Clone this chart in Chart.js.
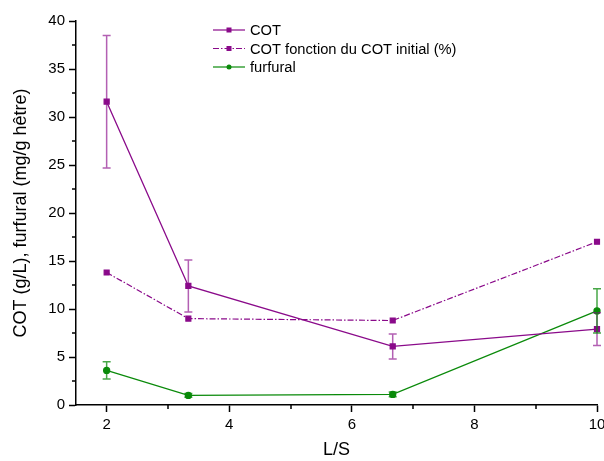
<!DOCTYPE html>
<html>
<head>
<meta charset="utf-8">
<script src="https://cdn.jsdelivr.net/npm/chart.js@4"></script>
<style>
  body { margin: 0; background: #fff; }
  #wrap { width: 604px; height: 461px; }
</style>
</head>
<body>
<div id="wrap"><canvas id="chart" width="604" height="461"></canvas></div>
<script>
const ratios = [2, 3.333, 6.667, 10];
const cotValues = [31.6, 12.4, 6.1, 7.9];
const cotErrors = [6.9, 2.7, 1.3, 1.7];
const cotInitialValues = [13.8, 9.0, 8.8, 17.0];
const furfuralValues = [3.6, 1.0, 1.1, 9.8];
const furfuralErrors = [0.9, 0.2, 0.25, 2.3];
const xTicks = [2, 4, 6, 8, 10];
const yTicks = [0, 5, 10, 15, 20, 25, 30, 35, 40];

const purple = '#8a0a8a';
const green = '#0a8a0a';
const font = 'Arial, "Liberation Sans", sans-serif';

function toPoints(values) {
    return values.map((v, i) => ({ x: ratios[i], y: v }));
}

const errorBars = {
    id: 'errorBars',
    afterDatasetsDraw(chart) {
        const ctx = chart.ctx;
        const xs = chart.scales.x;
        const ys = chart.scales.y;
        chart.data.datasets.forEach(ds => {
            if (!ds.errors) return;
            ctx.save();
            ctx.strokeStyle = ds.errorColor;
            ctx.lineWidth = 1.5;
            ds.data.forEach((p, i) => {
                const px = xs.getPixelForValue(p.x);
                const top = ys.getPixelForValue(p.y + ds.errors[i]);
                const bottom = ys.getPixelForValue(p.y - ds.errors[i]);
                ctx.beginPath();
                ctx.moveTo(px, top);
                ctx.lineTo(px, bottom);
                ctx.moveTo(px - 4, top);
                ctx.lineTo(px + 4, top);
                ctx.moveTo(px - 4, bottom);
                ctx.lineTo(px + 4, bottom);
                ctx.stroke();
            });
            ctx.restore();
        });
    }
};

// minor ticks, Chart.js has none
const minorTicks = {
    id: 'minorTicks',
    afterDraw(chart) {
        const ctx = chart.ctx;
        const xs = chart.scales.x;
        const ys = chart.scales.y;
        const area = chart.chartArea;
        ctx.save();
        ctx.strokeStyle = '#000';
        ctx.lineWidth = 1.5;
        ctx.beginPath();
        [3, 5, 7, 9].forEach(v => {
            const px = Math.round(xs.getPixelForValue(v));
            ctx.moveTo(px, area.bottom);
            ctx.lineTo(px, area.bottom + 4);
        });
        for (let v = 2.5; v < 40; v += 5) {
            const py = Math.round(ys.getPixelForValue(v));
            ctx.moveTo(area.left, py);
            ctx.lineTo(area.left - 4, py);
        }
        ctx.stroke();
        ctx.restore();
    }
};

const legendBox = {
    id: 'legendBox',
    afterDraw(chart) {
        const ctx = chart.ctx;
        const x0 = 213, x1 = 245;
        ctx.save();
        ctx.font = '14.7px ' + font;
        ctx.textBaseline = 'middle';
        chart.data.datasets.forEach((ds, i) => {
            const y = 30 + i * 18.5;
            ctx.strokeStyle = ds.borderColor;
            ctx.lineWidth = 1.2;
            ctx.setLineDash(ds.borderDash || []);
            ctx.beginPath();
            ctx.moveTo(x0, y);
            ctx.lineTo(x1, y);
            ctx.stroke();
            ctx.setLineDash([]);
            ctx.fillStyle = ds.borderColor;
            if (ds.pointStyle === 'circle') {
                ctx.beginPath();
                ctx.arc((x0 + x1) / 2, y, 2.5, 0, Math.PI * 2);
                ctx.fill();
            } else {
                ctx.fillRect((x0 + x1) / 2 - 2.5, y - 2.5, 5, 5);
            }
            ctx.fillStyle = '#000';
            ctx.fillText(ds.label, x1 + 5, y + 1);
        });
        ctx.restore();
    }
};

new Chart(document.getElementById('chart'), {
    type: 'line',
    data: {
        datasets: [
            {
                label: 'COT',
                data: toPoints(cotValues),
                errors: cotErrors,
                errorColor: 'rgba(138,10,138,0.65)',
                borderColor: purple,
                backgroundColor: purple,
                borderWidth: 1.3,
                pointStyle: 'rect',
                pointRadius: 3.5,
                clip: false,
            },
            {
                label: 'COT fonction du COT initial (%)',
                data: toPoints(cotInitialValues),
                borderColor: purple,
                backgroundColor: purple,
                borderWidth: 1.2,
                borderDash: [6, 2, 1.5, 2],
                pointStyle: 'rect',
                pointRadius: 3.5,
                clip: false,
            },
            {
                label: 'furfural',
                data: toPoints(furfuralValues),
                errors: furfuralErrors,
                errorColor: 'rgba(10,138,10,0.75)',
                borderColor: green,
                backgroundColor: green,
                borderWidth: 1.3,
                pointStyle: 'circle',
                pointRadius: 3,
                clip: false,
            },
        ],
    },
    options: {
        responsive: false,
        animation: false,
        layout: { padding: { top: 21, right: 7, bottom: 0, left: 0 } },
        plugins: {
            legend: { display: false },
            tooltip: { enabled: false },
        },
        scales: {
            x: {
                type: 'linear',
                min: 1.5,
                max: 10,
                afterBuildTicks: axis => { axis.ticks = xTicks.map(v => ({ value: v })); },
                afterFit: axis => { axis.height = 56; axis.paddingRight = 0; },
                ticks: { color: '#000', font: { size: 15, family: font }, padding: 4 },
                grid: { drawOnChartArea: false, tickLength: 7, tickWidth: 1.5, tickColor: '#000' },
                border: { color: '#000', width: 1.5 },
                title: { display: true, text: 'L/S', color: '#000', font: { size: 18, family: font }, padding: { top: 0, bottom: 0 } },
            },
            y: {
                min: 0,
                max: 40,
                afterBuildTicks: axis => { axis.ticks = yTicks.map(v => ({ value: v })); },
                afterFit: axis => { axis.width = 76; },
                ticks: { color: '#000', font: { size: 15, family: font }, padding: 4 },
                grid: { drawOnChartArea: false, tickLength: 7, tickWidth: 1.5, tickColor: '#000' },
                border: { color: '#000', width: 1.5 },
                title: { display: true, text: 'COT (g/L), furfural (mg/g hêtre)', color: '#000', font: { size: 18, family: font }, padding: { top: 10, bottom: 0 } },
            },
        },
    },
    plugins: [errorBars, minorTicks, legendBox],
});
</script>
</body>
</html>
